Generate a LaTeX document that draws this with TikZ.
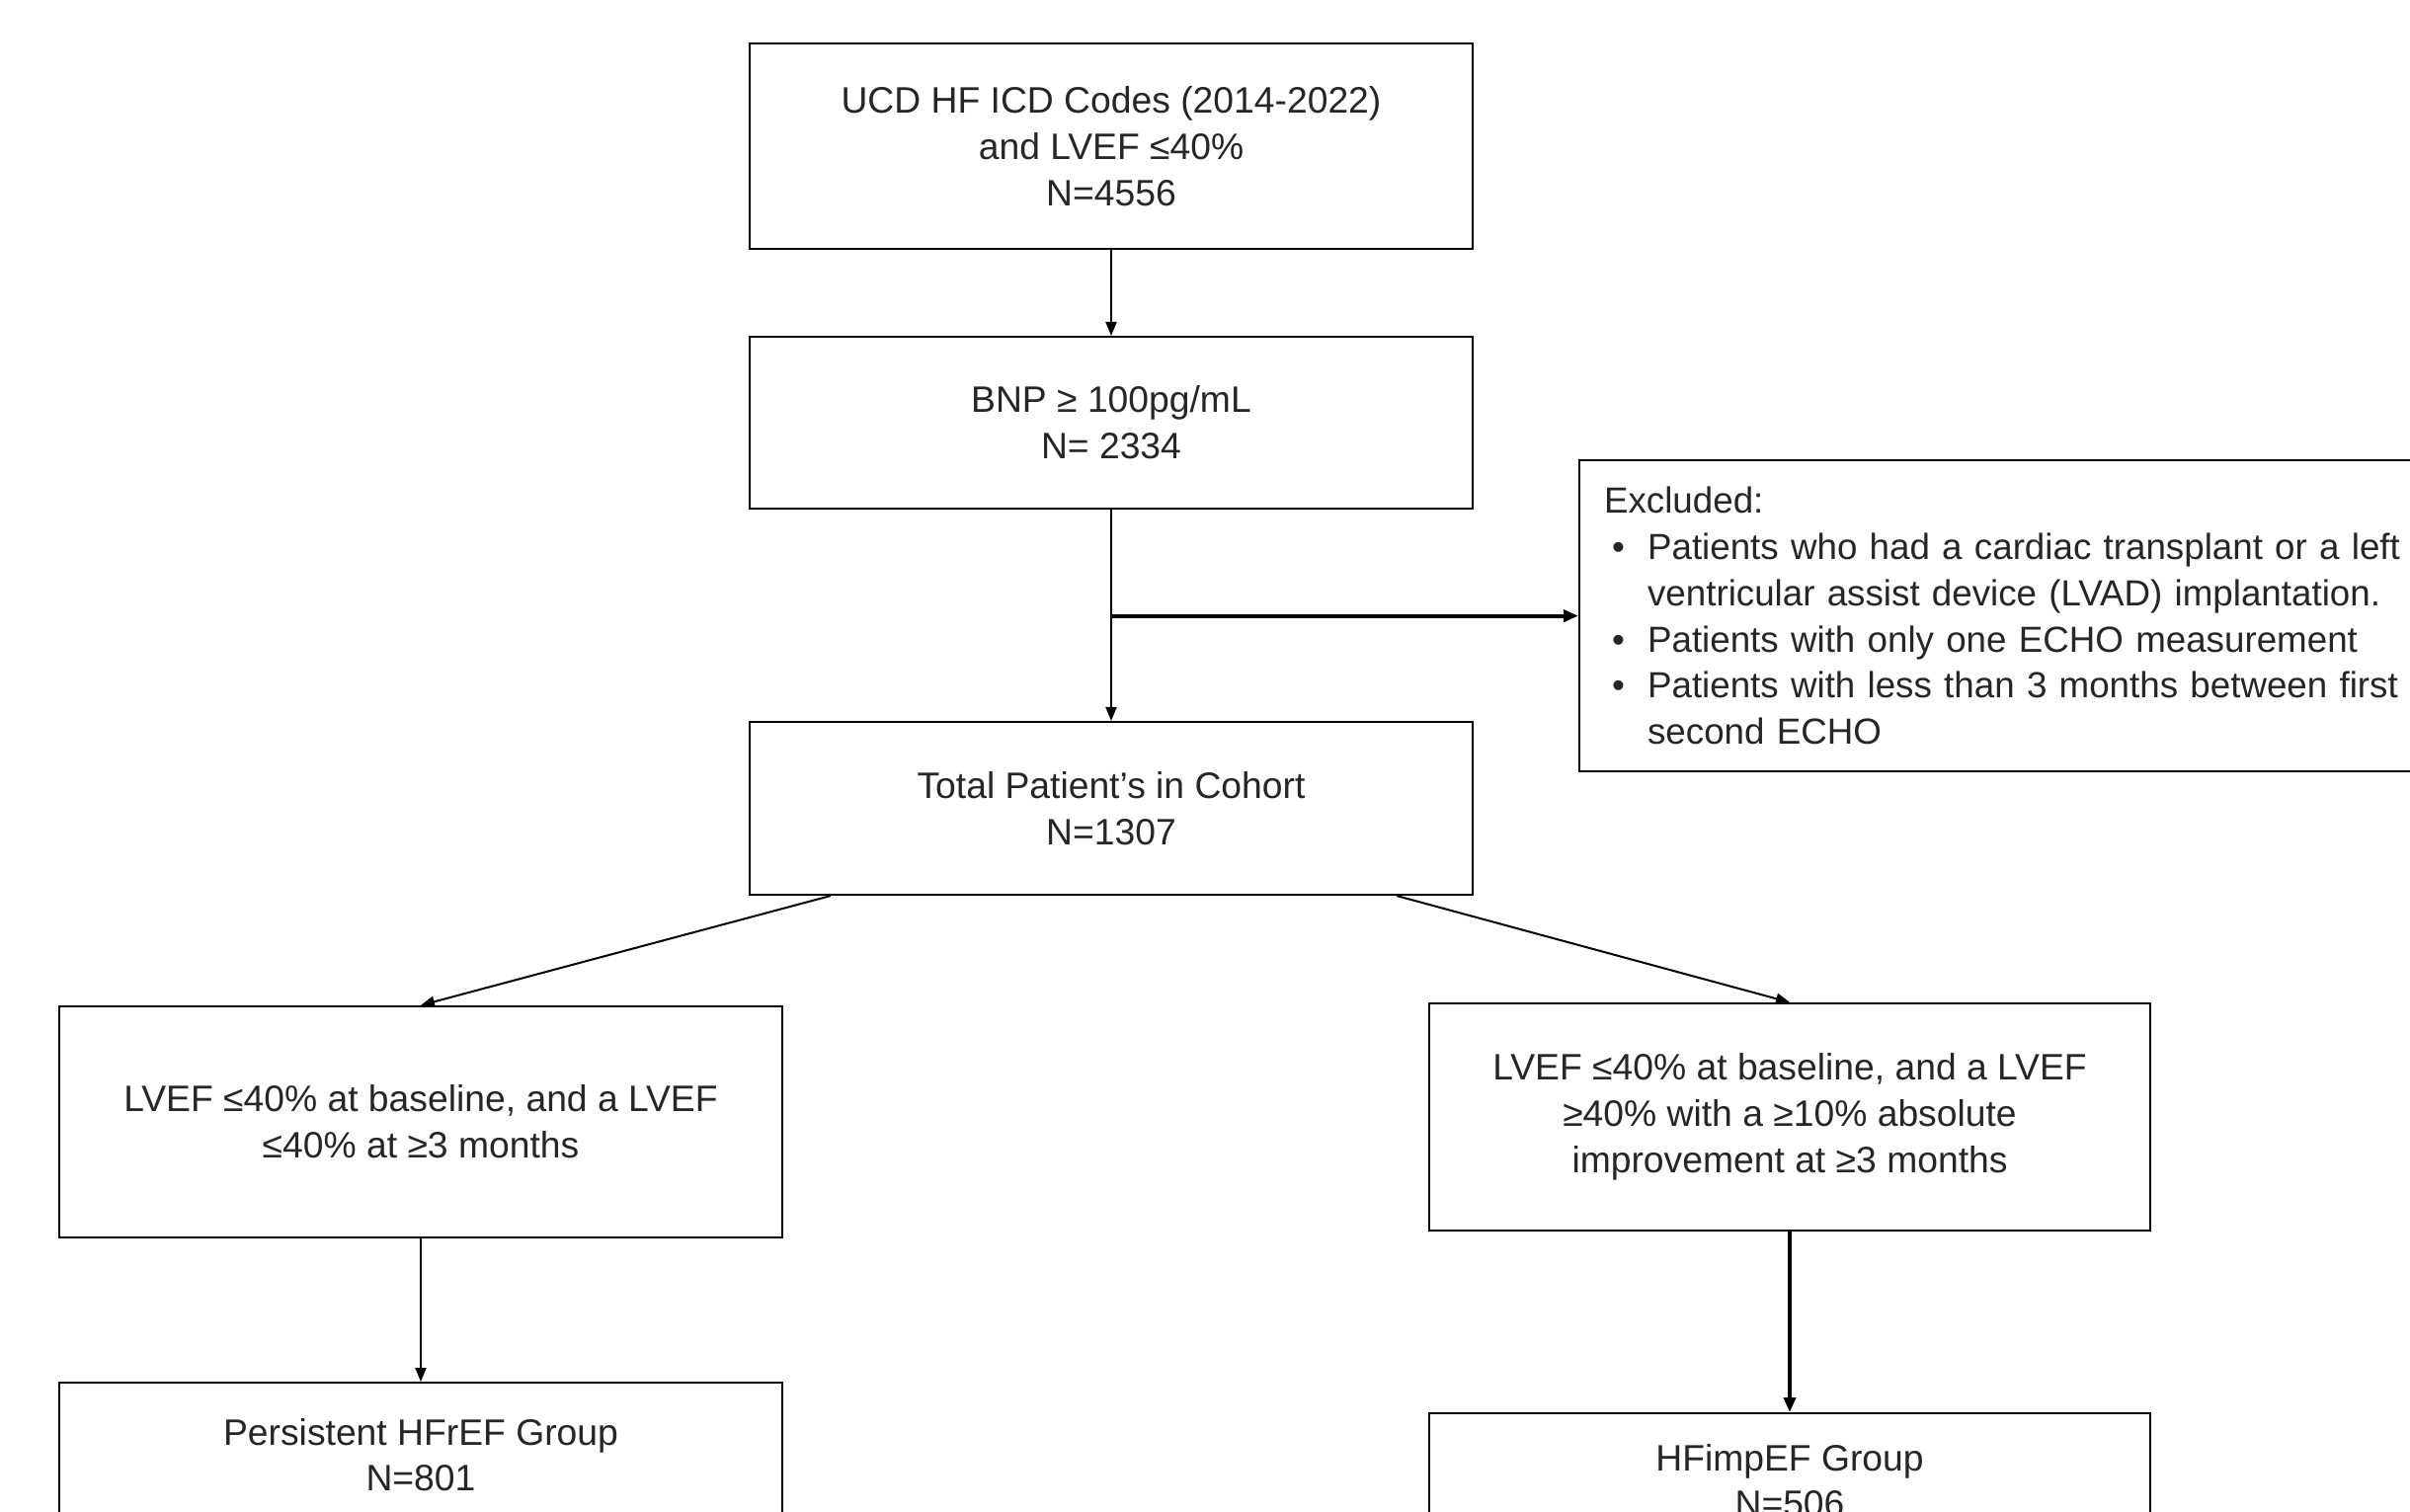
\documentclass[tikz,border=0pt]{standalone}
\usepackage{fontspec}
\setmainfont{Liberation Sans}
\usetikzlibrary{arrows.meta}
\begin{document}
\begin{tikzpicture}[x=0.01cm,y=-0.01cm,
  every node/.style={font=\fontsize{10.6}{13.3}\selectfont, inner sep=0pt},
  box/.style={draw, line width=0.02cm, rectangle, align=center, text=black!85},
  arr/.style={line width=0.02cm, -{Triangle[length=0.14cm,width=0.11cm]}},
  thickarr/.style={line width=0.04cm, -{Triangle[length=0.15cm,width=0.12cm]}}]
\useasboundingbox[fill=white] (0,0) rectangle (2440,1530);

\node[box, minimum width=7.32cm, minimum height=2.08cm] (b1) at (1125,148)
  {UCD HF ICD Codes (2014-2022)\\and LVEF ≤40\%\\N=4556};
\node[box, minimum width=7.32cm, minimum height=1.74cm] (b2) at (1125,428)
  {BNP ≥ 100pg/mL\\N= 2334};
\node[box, minimum width=7.32cm, minimum height=1.75cm] (b3) at (1125,818.5)
  {Total Patient’s in Cohort\\N=1307};

\node[box, anchor=north west, minimum width=8.7cm, minimum height=3.15cm,
      align=left, text width=8.45cm, inner xsep=0.25cm,
      font=\fontsize{10.45}{13.3}\selectfont] (ex) at (1598,465)
  {Excluded:\\
   \makebox[0.44cm][l]{\hspace{0.08cm}•}Patients who had a cardiac transplant or a left\\
   \hspace*{0.44cm}ventricular assist device (LVAD) implantation.\\
   \makebox[0.44cm][l]{\hspace{0.08cm}•}Patients with only one ECHO measurement\\
   \makebox[0.44cm][l]{\hspace{0.08cm}•}Patients with less than 3 months between first\\
   \hspace*{0.44cm}second ECHO};

\node[box, minimum width=7.31cm, minimum height=2.34cm] (l1) at (426,1136)
  {LVEF ≤40\% at baseline, and a LVEF\\≤40\% at ≥3 months};
\node[box, minimum width=7.30cm, minimum height=2.30cm] (r1) at (1812,1131)
  {\raisebox{-0.06cm}{\parbox{7cm}{\centering LVEF ≤40\% at baseline, and a LVEF\\≥40\% with a ≥10\% absolute\\improvement at ≥3 months}}};

\node[box, anchor=north, minimum width=7.31cm, minimum height=1.46cm] (p) at (426,1399)
  {Persistent HFrEF Group\\N=801};
\node[box, anchor=north, minimum width=7.30cm, minimum height=1.36cm] (h) at (1812,1430)
  {HFimpEF Group\\N=506};

\coordinate (j) at (b2.south |- ex.west);
\coordinate (s1) at ([xshift=0.83cm]b3.south west);
\coordinate (s2) at ([xshift=-0.78cm]b3.south east);

\draw[arr] (b1.south) -- (b2.north);
\draw[arr] (b2.south) -- (b3.north);
\draw[thickarr] (j) -- (ex.west);
\draw[arr] (s1) -- (l1.north);
\draw[arr] (s2) -- (r1.north);
\draw[arr] (l1.south) -- (p.north);
\draw[thickarr] (r1.south) -- (h.north);
\end{tikzpicture}
\end{document}
